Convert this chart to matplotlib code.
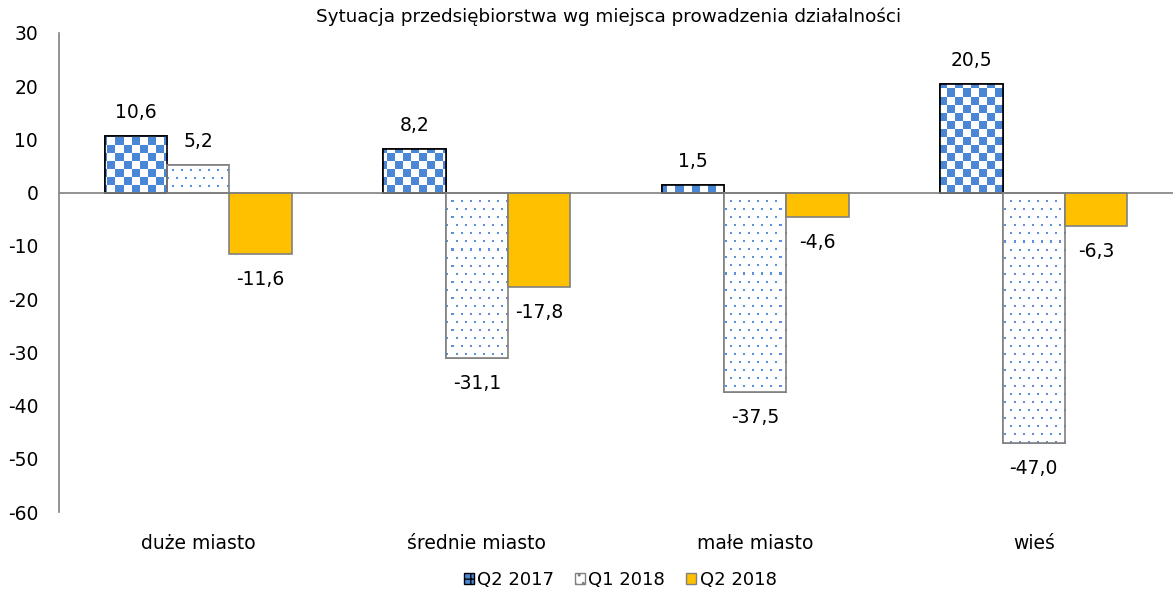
import numpy as np
import matplotlib.pyplot as plt
from matplotlib.patches import Patch

categories = ['duże miasto', 'średnie miasto', 'małe miasto', 'wieś']
series = ['Q2 2017', 'Q1 2018', 'Q2 2018']
q2_2017 = [10.6, 8.2, 1.5, 20.5]
q1_2018 = [5.2, -31.1, -37.5, -47.0]
q2_2018 = [-11.6, -17.8, -4.6, -6.3]
title = 'Sytuacja przedsiębiorstwa wg miejsca prowadzenia działalności'

plt.rcParams['font.family'] = 'DejaVu Sans'
plt.rcParams['axes.unicode_minus'] = False

W, H = 1173, 599
fig = plt.figure(figsize=(W / 100, H / 100), dpi=100)
ax = fig.add_axes([59 / W, 1 - 512 / H, 1 - 59 / W, (512 - 33) / H])

blue = '#4a86d6'
x = np.arange(len(categories))
bw = 0.224

# pixel patterns, one pixel per array cell over the axes area
aw, ah = W - 59, 512 - 33
jj, ii = np.meshgrid(np.arange(aw), np.arange(ah))
checker = np.ones((ah, aw, 3))
mask = ((ii // 8) + (jj // 8)) % 2 == 0
checker[mask] = [0x4a / 255, 0x86 / 255, 0xd6 / 255]
dots = np.ones((ah, aw, 3))
row = ii // 8
dmask = (ii % 8 < 2) & (((jj + (row % 2) * 4) % 9) < 2)
dots[dmask] = [0x5b / 255, 0x8f / 255, 0xdc / 255]

def patterned(xpos, vals, img, edge):
    bars = ax.bar(xpos, vals, bw, color='white', edgecolor=edge, linewidth=1.2, zorder=2)
    for b in bars:
        im = ax.imshow(img, extent=(0, 1, 0, 1), transform=ax.transAxes,
                       interpolation='nearest', aspect='auto', zorder=2.5)
        im.set_clip_path(b)
        ax.add_patch(plt.Rectangle((b.get_x(), 0), b.get_width(), b.get_height(),
                                   fill=False, edgecolor=edge, linewidth=1.2, zorder=3))
    return bars

b1 = patterned(x - bw, q2_2017, checker, 'black')
b2 = patterned(x, q1_2018, dots, '#808080')
b3 = ax.bar(x + bw, q2_2018, bw, color='#ffc000', edgecolor='#808080', linewidth=1.2, zorder=3)

for bars, vals in [(b1, q2_2017), (b2, q1_2018), (b3, q2_2018)]:
    for b, v in zip(bars, vals):
        off = 10 if v >= 0 else -11.5
        ax.annotate(f'{v:.1f}'.replace('.', ','), (b.get_x() + b.get_width() / 2, v),
                    xytext=(0, off), textcoords='offset points', ha='center',
                    va='bottom' if v >= 0 else 'top', fontsize=13.5)

ax.set_xlim(-0.5, len(categories) - 0.5)
ax.set_ylim(-60, 30)
ax.set_yticks(range(-60, 31, 10))
ax.set_xticks(x)
ax.set_xticklabels(categories, fontsize=13.5)
ax.tick_params(axis='y', length=0, pad=15, labelsize=13.5)
ax.tick_params(axis='x', length=0, pad=16)
ax.axhline(0, color='#808080', linewidth=1.2, zorder=4)
for s in ['top', 'right', 'bottom']:
    ax.spines[s].set_visible(False)
ax.spines['left'].set_color('#808080')
ax.spines['left'].set_linewidth(1.2)

fig.text(609 / W, 1 - 17 / H, title, ha='center', va='center', fontsize=13.2)

handles = [Patch(facecolor=blue, edgecolor='black', hatch='++'),
           Patch(facecolor='white', edgecolor='#808080', hatch='..'),
           Patch(facecolor='#ffc000', edgecolor='#808080')]
fig.legend(handles, series, loc='center', bbox_to_anchor=(620 / W, 1 - 580 / H), ncol=3,
           frameon=False, fontsize=13, handlelength=0.55, handleheight=0.55,
           handletextpad=0.2, columnspacing=1.15)

fig.savefig('out.png', dpi=100)
